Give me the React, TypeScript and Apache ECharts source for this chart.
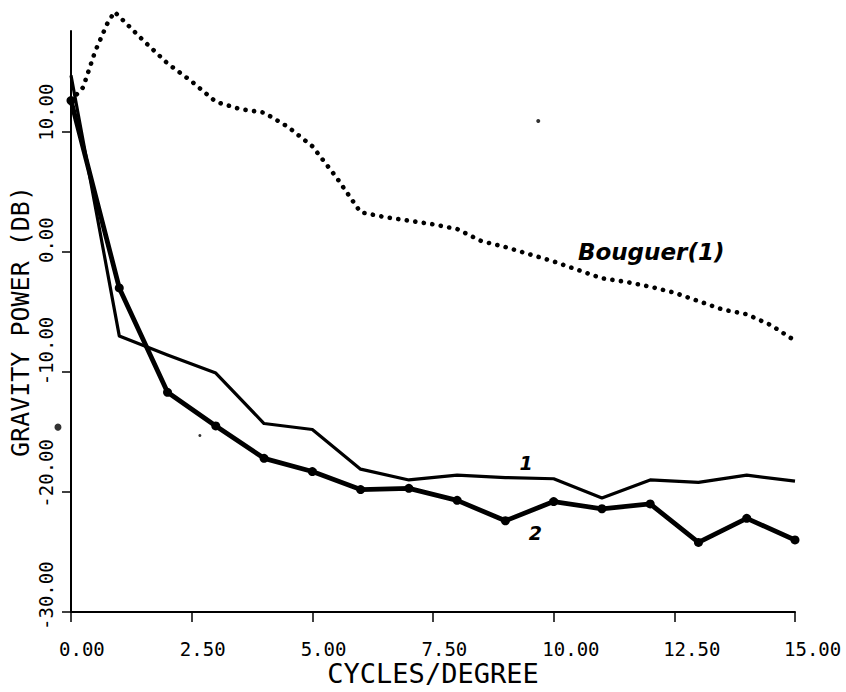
import { useEffect, useRef } from "react";
import * as echarts from "echarts";

// Harmonic degree (cycles/degree) sampled for the two residual spectra
const degrees = [0, 1, 2, 3, 4, 5, 6, 7, 8, 9, 10, 11, 12, 13, 14, 15];
// Spectrum "1" (thin solid line)
const spectrum1 = [14.7, -7.0, -8.6, -10.1, -14.3, -14.8, -18.1, -19.0, -18.6, -18.8, -18.9, -20.5, -19.0, -19.2, -18.6, -19.1];
// Spectrum "2" (heavy line with circle markers)
const spectrum2 = [12.6, -3.0, -11.7, -14.5, -17.2, -18.3, -19.8, -19.7, -20.7, -22.4, -20.8, -21.4, -21.0, -24.2, -22.2, -24.0];

// Bouguer(1) spectrum (dotted curve)
const bouguerX = [0, 0.25, 0.5, 0.75, 0.9, 1, 1.5, 2, 2.5, 3, 3.5, 4, 4.5, 5, 5.5, 6, 6.5, 7, 7.5, 8, 8.5, 9, 9.5, 10, 10.5, 11, 11.5, 12, 12.5, 13, 13.5, 14, 14.5, 15];
const bouguerY = [12.6, 13.7, 16.7, 19.0, 20.0, 19.6, 17.6, 15.7, 14.2, 12.5, 11.9, 11.6, 10.4, 8.8, 6.2, 3.3, 2.9, 2.6, 2.3, 1.9, 0.9, 0.4, -0.2, -0.8, -1.5, -2.2, -2.5, -2.9, -3.4, -4.1, -4.8, -5.2, -6.1, -7.4];

// Axis tick values
const yTickValues = [-30, -20, -10, 0, 10];

// Curve annotations (data coordinates)
const notes = [
  { text: "Bouguer(1)", at: [12.02, -0.05] },
  { text: "1", at: [9.43, -17.6] },
  { text: "2", at: [9.62, -23.4] },
];

// Isolated plotter specks
const speckX = [9.68, -0.27, 2.67];
const speckY = [10.9, -14.6, -15.3];
const speckSizes = [4, 7, 3];

const MONO = "'DejaVu Sans Mono', 'Liberation Mono', monospace";
const SANS = "'DejaVu Sans', sans-serif";
const INK = "#000";

export default function App() {
  const ref = useRef<HTMLDivElement>(null);

  useEffect(() => {
    document.body.style.margin = "0";
    if (!ref.current) return;
    const chart = echarts.init(ref.current, undefined, { renderer: "svg" });

    const fmt = (v: number) => v.toFixed(2);
    const hiddenAxis = { show: false };

    const option: any = {
      animation: false,
      backgroundColor: "#fff",
      grid: [
        // plotting frame
        { left: 70, right: 51, top: 31, bottom: 69 },
        // x tick labels: start just left of each tick
        { left: 59, right: 62, top: 31, bottom: 69 },
        // y tick labels: start just below each tick
        { left: 70, right: 51, top: 38, bottom: 62 },
      ],
      xAxis: [
        {
          type: "value",
          gridIndex: 0,
          min: 0,
          max: 15,
          interval: 2.5,
          axisLine: { show: true, onZero: false, lineStyle: { color: INK, width: 2 } },
          axisTick: { show: true, inside: false, length: 10, lineStyle: { color: INK, width: 1.5 } },
          axisLabel: { show: false },
          splitLine: { show: false },
          name: "CYCLES/DEGREE",
          nameLocation: "middle",
          nameGap: 48,
          nameTextStyle: { fontFamily: MONO, fontSize: 27, color: INK },
        },
        {
          type: "value",
          gridIndex: 1,
          min: 0,
          max: 15,
          interval: 2.5,
          axisLine: { show: false },
          axisTick: { show: false },
          splitLine: { show: false },
          axisLabel: {
            align: "left",
            margin: 16,
            formatter: fmt,
            fontFamily: MONO,
            fontSize: 19,
            color: INK,
          },
        },
        { type: "value", gridIndex: 2, min: 0, max: 15, ...hiddenAxis },
      ],
      yAxis: [
        {
          type: "value",
          gridIndex: 0,
          min: -30,
          max: 18.4,
          interval: 10,
          axisLine: { show: true, onZero: false, lineStyle: { color: INK, width: 2 } },
          axisTick: {
            show: true,
            inside: false,
            length: 9,
            customValues: yTickValues,
            lineStyle: { color: INK, width: 1.5 },
          },
          axisLabel: { show: false },
          splitLine: { show: false },
          name: "GRAVITY POWER (DB)",
          nameLocation: "middle",
          nameRotate: 90,
          nameGap: 38,
          nameTextStyle: { fontFamily: MONO, fontSize: 25, color: INK },
        },
        { type: "value", gridIndex: 1, min: -30, max: 18.4, ...hiddenAxis },
        {
          type: "value",
          gridIndex: 2,
          min: -30,
          max: 18.4,
          interval: 10,
          axisLine: { show: false, onZero: false },
          axisTick: { show: false },
          splitLine: { show: false },
          axisLabel: {
            customValues: yTickValues,
            rotate: 90,
            align: "left",
            verticalAlign: "bottom",
            margin: 15,
            formatter: fmt,
            fontFamily: MONO,
            fontSize: 19,
            color: INK,
          },
        },
      ],
      series: [
        {
          name: "1",
          type: "line",
          xAxisIndex: 0,
          yAxisIndex: 0,
          data: degrees.map((d, i) => [d, spectrum1[i]]),
          symbol: "none",
          lineStyle: { color: INK, width: 3.2, join: "round" },
          markPoint: {
            symbol: "circle",
            symbolSize: 1,
            itemStyle: { color: "transparent" },
            label: {
              show: true,
              position: "inside",
              formatter: "{b}",
              fontFamily: SANS,
              fontWeight: "bold",
              fontStyle: "italic",
              fontSize: 19,
              color: INK,
            },
            data: notes.map((n) => ({
              name: n.text,
              coord: n.at,
              label: n.text.length > 1 ? { fontSize: 23 } : {},
            })),
          },
        },
        {
          name: "2",
          type: "line",
          xAxisIndex: 0,
          yAxisIndex: 0,
          data: degrees.map((d, i) => [d, spectrum2[i]]),
          symbol: "circle",
          symbolSize: 9,
          itemStyle: { color: INK },
          lineStyle: { color: INK, width: 4.8, join: "round" },
        },
        {
          name: "Bouguer(1)",
          type: "line",
          xAxisIndex: 0,
          yAxisIndex: 0,
          clip: false,
          data: bouguerX.map((x, i) => [x, bouguerY[i]]),
          symbol: "none",
          lineStyle: { color: INK, width: 4.6, type: [0.1, 8.5], cap: "round" },
        },
        {
          name: "specks",
          type: "scatter",
          xAxisIndex: 0,
          yAxisIndex: 0,
          clip: false,
          data: speckX.map((x, i) => [x, speckY[i]]),
          symbolSize: (_v: any, p: any) => speckSizes[p.dataIndex],
          itemStyle: { color: INK },
        },
      ],
    };

    chart.setOption(option);
    return () => chart.dispose();
  }, []);

  return <div ref={ref} style={{ width: 846, height: 692 }} />;
}
